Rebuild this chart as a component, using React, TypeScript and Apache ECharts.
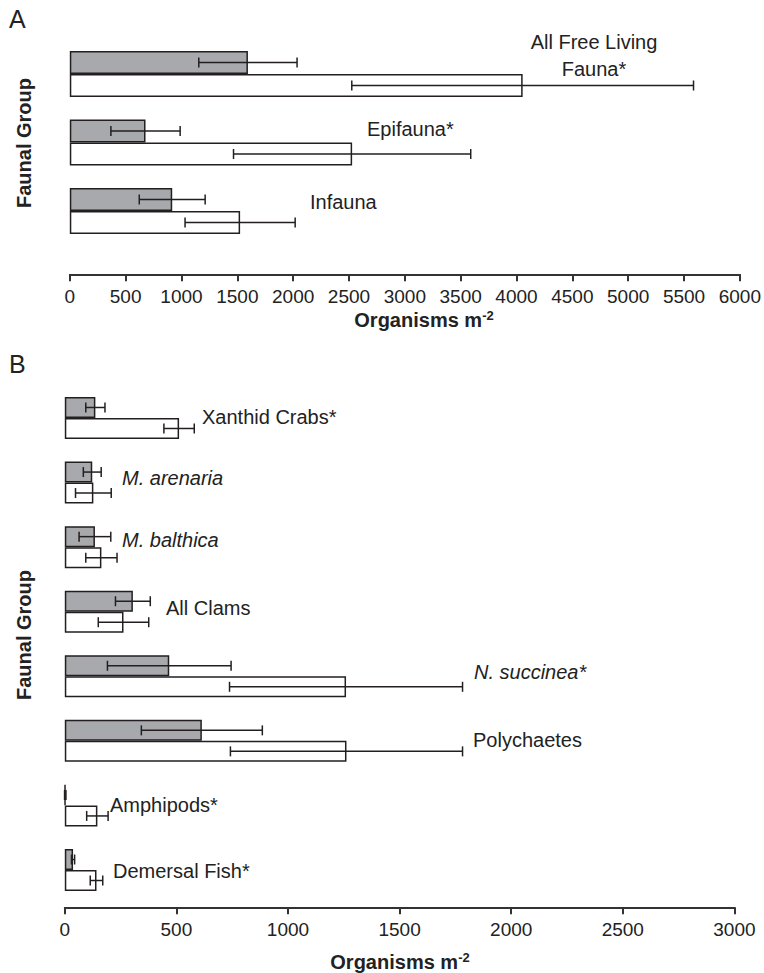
import React, { useEffect, useRef } from 'react';
import * as echarts from 'echarts';

// ---------- Panel A data ----------
const groupsA = ['All Free Living Fauna*', 'Epifauna*', 'Infauna'];
const labelsA = ['All Free Living\nFauna*', 'Epifauna*', 'Infauna'];
const grayA = [1595, 678, 917];
const grayErrA = [440, 310, 295];
const whiteA = [4055, 2528, 1525];
const whiteErrA = [1530, 1062, 493];
const axisA = { min: 0, max: 6000, interval: 500 };

// ---------- Panel B data ----------
const groupsB = ['Xanthid Crabs*', 'M. arenaria', 'M. balthica', 'All Clams', 'N. succinea*', 'Polychaetes', 'Amphipods*', 'Demersal Fish*'];
const italicB = [false, true, true, false, true, false, false, false];
const grayB = [137, 123, 135, 305, 468, 614, 2, 37];
const grayErrB = [43, 40, 71, 78, 277, 271, 3, 7];
const whiteB = [512, 128, 164, 263, 1260, 1262, 146, 142];
const whiteErrB = [68, 80, 70, 113, 522, 520, 48, 28];
const axisB = { min: 0, max: 3000, interval: 500 };

const FONT = '"Liberation Sans", Arial, Helvetica, sans-serif';
const INK = '#231f20';
const GRAY = '#a7a9ac';

export default function App() {
  const ref = useRef<HTMLDivElement>(null);

  useEffect(() => {
    if (!ref.current) return;
    const chart = echarts.init(ref.current, undefined, { renderer: 'svg' });

    const barWA = 23;
    const barWB = 21;

    const errorSeries = (gi: number, means: number[], errs: number[], side: number, bw: number) => ({
      type: 'custom',
      xAxisIndex: gi,
      yAxisIndex: gi,
      silent: true,
      z: 10,
      encode: { x: 0, y: 1 },
      data: means.map((m, i) => [m, i, errs[i]]),
      renderItem: (_p: any, api: any) => {
        const m = api.value(0);
        const c = api.value(1);
        const e = api.value(2);
        const lo = api.coord([m - e, c]);
        const hi = api.coord([m + e, c]);
        const y = lo[1] + side * bw / 2;
        const h = 5;
        const st = { stroke: INK, lineWidth: 1.5 };
        return {
          type: 'group',
          children: [
            { type: 'line', shape: { x1: lo[0], y1: y, x2: hi[0], y2: y }, style: st },
            { type: 'line', shape: { x1: lo[0], y1: y - h, x2: lo[0], y2: y + h }, style: st },
            { type: 'line', shape: { x1: hi[0], y1: y - h, x2: hi[0], y2: y + h }, style: st },
          ],
        };
      },
    });

    const barSeries = (gi: number, data: number[], color: string, bw: number) => ({
      type: 'bar',
      xAxisIndex: gi,
      yAxisIndex: gi,
      data,
      barWidth: bw,
      barGap: '0%',
      silent: true,
      itemStyle: { color, borderColor: INK, borderWidth: 1.5 },
    });

    const xAxisCommon = {
      type: 'value',
      axisLine: { show: true, lineStyle: { color: '#333', width: 2 } },
      axisTick: { show: true, length: 7, lineStyle: { color: '#333', width: 2 } },
      axisLabel: {
        fontSize: 19,
        color: '#222',
        margin: 13,
        fontFamily: FONT,
        formatter: (v: number) => String(v),
      },
      splitLine: { show: false },
    };
    const yAxisCommon = {
      type: 'category',
      inverse: true,
      axisLine: { show: false },
      axisTick: { show: false },
      axisLabel: { show: false },
      splitLine: { show: false },
    };

    const labelStyle = (text: string, x: number, y: number, italic = false, align = 'left') => ({
      type: 'text',
      x,
      y,
      silent: true,
      style: {
        text,
        fill: '#222',
        fontSize: 20,
        fontFamily: FONT,
        fontStyle: italic ? 'italic' : 'normal',
        align,
        verticalAlign: 'middle',
        lineHeight: 27,
      },
    });

    const labelPosA = [[594, 55.5, 'center'], [367, 128.5, 'left'], [310, 201.5, 'left']];
    const labelPosB = [[202, 417], [122, 478], [122, 540], [166, 607.5], [474, 671.5], [473, 740], [110, 805], [113, 871]];

    const axisTitle = (x: number, y: number) => ({
      type: 'text',
      x,
      y,
      silent: true,
      style: {
        text: '{a|Organisms m}{b|-2}',
        align: 'center',
        verticalAlign: 'middle',
        rich: {
          a: { fontSize: 20, fontWeight: 'bold', fontFamily: FONT, fill: '#222', lineHeight: 22 },
          b: { fontSize: 13, fontWeight: 'bold', fontFamily: FONT, fill: '#222', lineHeight: 22, verticalAlign: 'top' },
        },
      },
    });

    const yTitle = (x: number, y: number) => ({
      type: 'text',
      x,
      y,
      rotation: Math.PI / 2,
      silent: true,
      style: {
        text: 'Faunal Group',
        fontSize: 20,
        fontWeight: 'bold',
        fontFamily: FONT,
        fill: '#222',
        align: 'center',
        verticalAlign: 'middle',
      },
    });

    const panelLetter = (t: string, y: number) => ({
      type: 'text',
      x: 9,
      y,
      silent: true,
      style: { text: t, fontSize: 25, fontFamily: FONT, fill: '#222', align: 'left', verticalAlign: 'middle' },
    });

    chart.setOption({
      animation: false,
      backgroundColor: '#ffffff',
      grid: [
        { left: 69.8, top: 39.75, width: 670.9, height: 205.5 },
        { left: 64.8, top: 385.7, width: 669.6, height: 516.6 },
      ],
      xAxis: [
        { ...xAxisCommon, gridIndex: 0, ...axisA, offset: 29 },
        { ...xAxisCommon, gridIndex: 1, ...axisB, offset: 5 },
      ],
      yAxis: [
        { ...yAxisCommon, gridIndex: 0, data: groupsA },
        { ...yAxisCommon, gridIndex: 1, data: groupsB },
      ],
      series: [
        barSeries(0, grayA, GRAY, barWA),
        barSeries(0, whiteA, '#ffffff', barWA),
        errorSeries(0, grayA, grayErrA, -1, barWA),
        errorSeries(0, whiteA, whiteErrA, 1, barWA),
        barSeries(1, grayB, GRAY, barWB),
        barSeries(1, whiteB, '#ffffff', barWB),
        errorSeries(1, grayB, grayErrB, -1, barWB),
        errorSeries(1, whiteB, whiteErrB, 1, barWB),
      ],
      graphic: [
        panelLetter('A', 19),
        panelLetter('B', 364),
        yTitle(24, 143),
        yTitle(24, 635),
        axisTitle(424, 320),
        axisTitle(400, 962),
        ...labelsA.map((t, i) => labelStyle(t, labelPosA[i][0] as number, labelPosA[i][1] as number, false, labelPosA[i][2] as string)),
        ...groupsB.map((t, i) => labelStyle(t, labelPosB[i][0], labelPosB[i][1], italicB[i])),
      ],
    });

    return () => chart.dispose();
  }, []);

  return <div ref={ref} style={{ position: 'absolute', left: 0, top: 0, width: 764, height: 973 }} />;
}
